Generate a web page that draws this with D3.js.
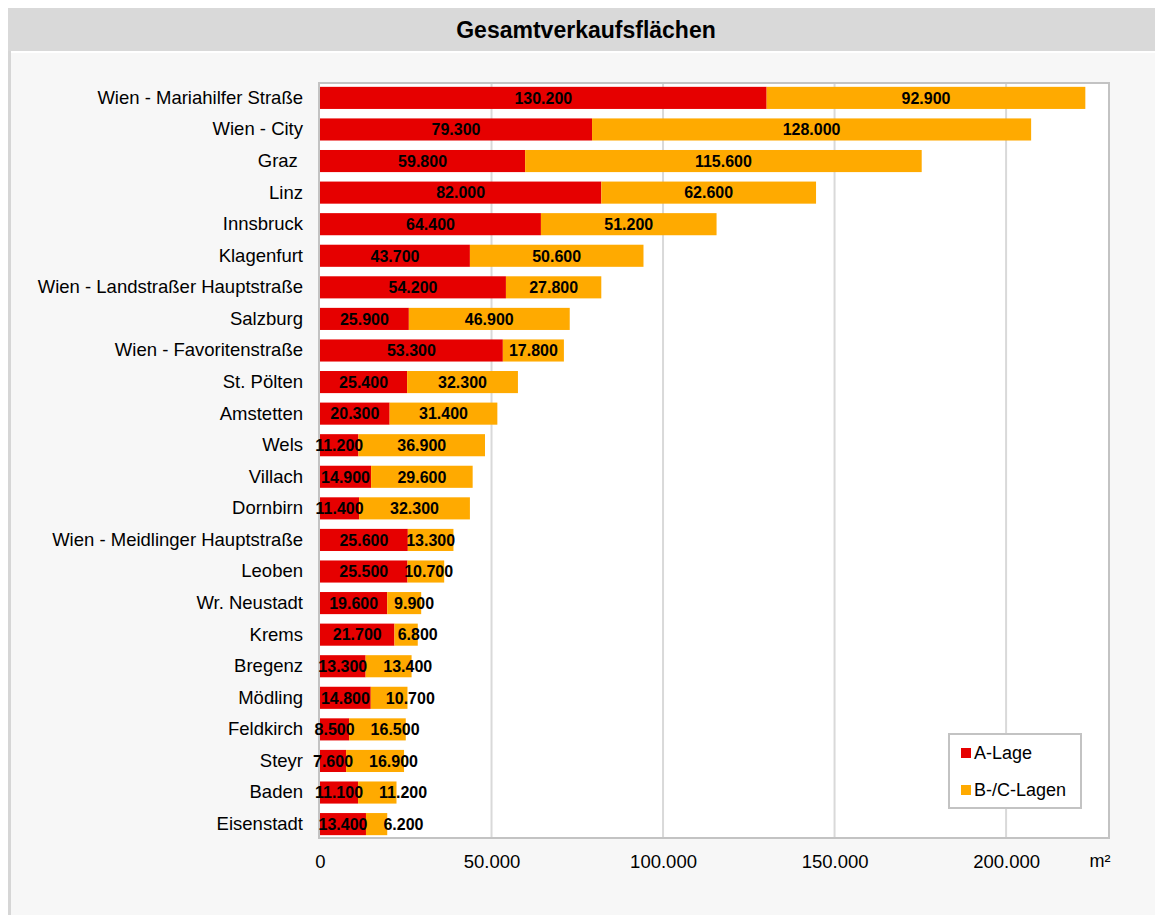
<!DOCTYPE html>
<html>
<head>
<meta charset="utf-8">
<script src="https://cdn.jsdelivr.net/npm/d3@7/dist/d3.min.js"></script>
<style>
  html, body { margin: 0; padding: 0; background: #ffffff; }
  svg { display: block; font-family: "Liberation Sans", Arial, sans-serif; }
</style>
</head>
<body>
<svg id="chart" width="1155" height="915"></svg>
<script>
// Retail floor space per shopping location (m²)
const locations = [
  "Wien - Mariahilfer Straße", "Wien - City", "Graz ", "Linz", "Innsbruck",
  "Klagenfurt", "Wien - Landstraßer Hauptstraße", "Salzburg", "Wien - Favoritenstraße",
  "St. Pölten", "Amstetten", "Wels", "Villach", "Dornbirn",
  "Wien - Meidlinger Hauptstraße", "Leoben", "Wr. Neustadt", "Krems", "Bregenz",
  "Mödling", "Feldkirch", "Steyr", "Baden", "Eisenstadt"
];
const aLage = [
  130200, 79300, 59800, 82000, 64400, 43700, 54200, 25900, 53300, 25400, 20300, 11200,
  14900, 11400, 25600, 25500, 19600, 21700, 13300, 14800, 8500, 7600, 11100, 13400
];
const bcLagen = [
  92900, 128000, 115600, 62600, 51200, 50600, 27800, 46900, 17800, 32300, 31400, 36900,
  29600, 32300, 13300, 10700, 9900, 6800, 13400, 10700, 16500, 16900, 11200, 6200
];
const seriesNames = ["A-Lage", "B-/C-Lagen"];
const seriesColors = ["#e60000", "#ffaa00"];
const tickValues = [0, 50000, 100000, 150000, 200000];
const axisMax = 230000;
const unitLabel = "m²";
const title = "Gesamtverkaufsflächen";

const de = d3.formatLocale({ decimal: ",", thousands: ".", grouping: [3], currency: ["", " €"] });
const fmt = de.format(",d");

const svg = d3.select("#chart");

// panel background, left rule and title band
svg.append("rect").attr("x", 8).attr("y", 8).attr("width", 1147).attr("height", 907).attr("fill", "#f7f7f7");
svg.append("rect").attr("x", 8).attr("y", 51).attr("width", 3).attr("height", 864).attr("fill", "#d6d6d6");
svg.append("rect").attr("x", 11).attr("y", 51).attr("width", 1144).attr("height", 2).attr("fill", "#ffffff");
svg.append("rect").attr("x", 8).attr("y", 8).attr("width", 1147).attr("height", 43).attr("fill", "#d9d9d9");
svg.append("text").attr("x", 586).attr("y", 30).attr("dy", "0.36em")
  .attr("text-anchor", "middle").attr("font-weight", "bold").attr("font-size", 23)
  .attr("fill", "#000").text(title);

// plot area
const plot = { left: 319, right: 1109, top: 83, bottom: 838 };

const x = d3.scaleLinear().domain([0, axisMax]).range([plot.left + 1, plot.right]);
const y = d3.scaleBand().domain(locations).range([plot.top + 1, plot.bottom])
  .paddingInner(0.3).paddingOuter(0.09);

svg.append("rect").attr("x", plot.left).attr("y", plot.top)
  .attr("width", plot.right - plot.left).attr("height", plot.bottom - plot.top)
  .attr("fill", "#ffffff");

// vertical gridlines
svg.append("g").selectAll("line").data(tickValues.filter(d => d > 0)).join("line")
  .attr("x1", d => x(d)).attr("x2", d => x(d))
  .attr("y1", plot.top).attr("y2", plot.bottom)
  .attr("stroke", "#d9d9d9").attr("stroke-width", 2);

// stacked bars
const rows = locations.map((name, i) => ({ name, values: [aLage[i], bcLagen[i]] }));
const stack = d3.stack().keys([0, 1]).value((d, k) => d.values[k]);
const stacked = stack(rows);

const layers = svg.append("g").selectAll("g").data(stacked).join("g")
  .attr("fill", (d, i) => seriesColors[i]);
layers.selectAll("rect").data(d => d).join("rect")
  .attr("x", d => x(d[0]))
  .attr("y", d => y(d.data.name))
  .attr("width", d => x(d[1]) - x(d[0]))
  .attr("height", y.bandwidth());

// plot border
svg.append("rect").attr("x", plot.left).attr("y", plot.top)
  .attr("width", plot.right - plot.left).attr("height", plot.bottom - plot.top)
  .attr("fill", "none").attr("stroke", "#c3c3c3").attr("stroke-width", 2);

// value labels: centred in each segment; a second-segment label is pushed
// right when it would collide with the first segment's label
const labelG = svg.append("g").attr("font-weight", "bold").attr("font-size", 16)
  .attr("fill", "#000").attr("text-anchor", "middle");
const labelGap = 16;
rows.forEach((row, i) => {
  const cy = y(row.name) + y.bandwidth() / 2;
  let prevRight = -Infinity;
  stacked.forEach(layer => {
    const d = layer[i];
    const t = labelG.append("text")
      .attr("y", cy).attr("dy", "0.36em")
      .text(fmt(d[1] - d[0]));
    const w = t.node().getComputedTextLength();
    let cx = (x(d[0]) + x(d[1])) / 2;
    if (cx - w / 2 < prevRight + labelGap) cx = prevRight + labelGap + w / 2;
    t.attr("x", cx);
    prevRight = cx + w / 2;
  });
});

// category axis
const yAxis = d3.axisLeft(y).tickSize(0).tickPadding(0);
const yg = svg.append("g").attr("transform", `translate(${plot.left - 16},0)`).call(yAxis);
yg.select(".domain").remove();
yg.selectAll("text").attr("font-size", 18.5).attr("fill", "#000")
  .attr("font-family", "\"Liberation Sans\", Arial, sans-serif")
  .style("white-space", "pre");

// value axis
const xAxis = d3.axisBottom(x).tickValues(tickValues).tickSize(0).tickPadding(0)
  .tickFormat(d => fmt(d));
const xg = svg.append("g").attr("transform", `translate(0,${plot.bottom + 17})`).call(xAxis);
xg.select(".domain").remove();
xg.selectAll("text").attr("font-size", 18.5).attr("fill", "#000")
  .attr("font-family", "\"Liberation Sans\", Arial, sans-serif");

svg.append("text").attr("x", 1100).attr("y", 861).attr("dy", "0.36em")
  .attr("text-anchor", "middle").attr("font-size", 18).attr("fill", "#000").text(unitLabel);

// legend
const legend = svg.append("g").attr("transform", "translate(949,734)");
legend.append("rect").attr("width", 132).attr("height", 74)
  .attr("fill", "#ffffff").attr("stroke", "#c3c3c3").attr("stroke-width", 2);
const items = legend.selectAll("g.item").data(seriesNames).join("g").attr("class", "item")
  .attr("transform", (d, i) => `translate(12,${19 + i * 37})`);
items.append("rect").attr("x", 0).attr("y", -5).attr("width", 10).attr("height", 10)
  .attr("fill", (d, i) => seriesColors[i]);
items.append("text").attr("x", 13).attr("dy", "0.36em").attr("font-size", 18)
  .attr("fill", "#000").text(d => d);
</script>
</body>
</html>
